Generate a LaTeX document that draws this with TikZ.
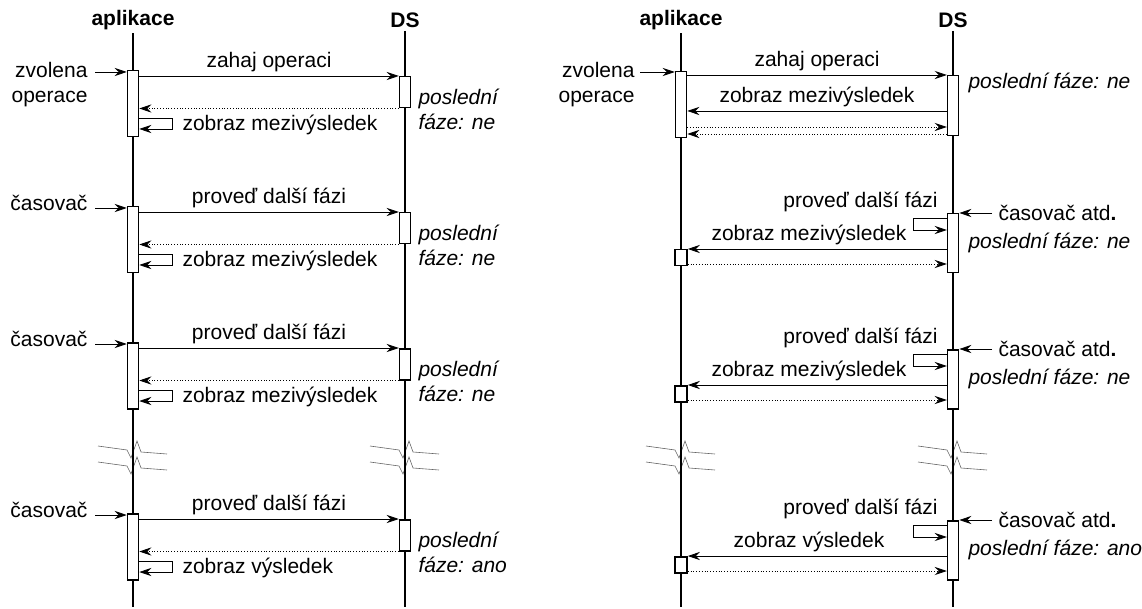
\documentclass[tikz,border=0pt]{standalone}
\usepackage{fontspec}
\setmainfont{Liberation Sans}
\usetikzlibrary{arrows.meta,calc}
\tikzset{
  lbl/.style={font=\fontsize{21}{25}\selectfont},
  itl/.style={font=\fontsize{21}{25}\selectfont\itshape},
  hdr/.style={font=\fontsize{21}{25}\selectfont\bfseries},
  life/.style={line width=1.6pt},
  act/.style={draw, fill=white, line width=1.5pt, rectangle, inner sep=0pt, minimum width=11pt},
  msg/.style={line width=0.8pt, -{Stealth[length=12pt,width=8pt,inset=4pt]}},
  ret/.style={line width=0.8pt, dash pattern=on 0.8pt off 2pt, -{Stealth[length=12pt,width=8pt,inset=4pt]}},
  brk/.style={line width=0.6pt, black!60},
}
\newcommand\LBlock[6]{%
  \node[act, minimum height=66pt, anchor=north] (LA#1) at (133,#2) {};
  \node[act, minimum height=31pt, anchor=north] (LD#1) at (405,#2+6) {};
  \coordinate (LI#1) at (95,#2+2);
  \draw[msg] (LI#1) -- (LA#1.west |- LI#1);
  \node[lbl, anchor=east, align=right] (LL#1) at (91,#2+#3) {#4};
  \draw[msg] (LA#1.east |- LD#1.north west) -- node[lbl, above] (LM#1) {#5} (LD#1.north west);
  \draw[ret] (LD#1.south west) -- (LA#1.east |- LD#1.south west);
  \coordinate (LS#1) at ([yshift=-48pt]LA#1.north east);
  \coordinate (LE#1) at ([yshift=-59pt]LA#1.north east);
  \draw[msg] (LS#1) -- ++(33,0) |- (LE#1);
  \node[itl, anchor=west, align=left] (LP#1) at (415,#2+39) {poslední\\fáze: #6};
}
\newcommand\LSelf[3]{%
  \node[lbl, anchor=west] (LT#1) at (179,#2+55) {#3};
}
\newcommand\RBlock[4]{%
  \node[act, minimum height=59pt, anchor=north] (RD#1) at (953,#2) {};
  \node[act, minimum height=16pt, minimum width=12pt, anchor=north] (RA#1) at (681,#2+36) {};
  \coordinate (RI#1) at (992,#2);
  \draw[msg] (RI#1) -- (RD#1.east |- RI#1);
  \node[lbl, anchor=west] (RL#1) at (995,#2) {časovač atd\textbf{.}};
  \coordinate (RS#1) at ([yshift=-5pt]RD#1.north west);
  \coordinate (RE#1) at ([yshift=-17pt]RD#1.north west);
  \draw[msg] (RS#1) -- ++(-33,0) |- (RE#1);
  \node[lbl, anchor=east] (RM#1) at (941,#2-11) {proveď další fázi};
  \draw[msg] (RD#1.west |- RA#1.north east) -- (RA#1.north east);
  \node[lbl] (RT#1) at (809,#2+22) {#3};
  \coordinate (RR#1) at ([yshift=2.5pt]RA#1.south east);
  \draw[ret] (RR#1) -- (RD#1.west |- RR#1);
  \node[itl, anchor=west] (RP#1) at (965,#2+30) {poslední fáze: #4};
}
\newcommand\Brk[2]{%
  \draw[brk] (#1-35,#2) -- (#1-6,#2+4) -- (#1-2,#2+12) -- (#1+4,#2-5) -- (#1+8,#2+6) -- (#1+34,#2+8);
}
\begin{document}
\begin{tikzpicture}[x=1pt,y=-1pt]
\useasboundingbox (0,0) rectangle (1142,609);
% headers
\node[hdr] (hLA) at (133,20) {aplikace};
\node[hdr] (hLD) at (405,20) {DS};
\node[hdr] (hRA) at (681,20) {aplikace};
\node[hdr] (hRD) at (953,20) {DS};
\coordinate (eLA) at (133,607);
\coordinate (eLD) at (405,607);
\coordinate (eRA) at (681,607);
\coordinate (eRD) at (953,607);
% break marks
\foreach \xx in {133,405,681,953}{\Brk{\xx}{446}\Brk{\xx}{462}}
% lifelines
\draw[life] (hLA.south) -- (eLA);
\draw[life] (hLD.south) -- (eLD);
\draw[life] (hRA.south) -- (eRA);
\draw[life] (hRD.south) -- (eRD);
% left blocks
\LBlock{1}{70}{14.5}{zvolena\\operace}{zahaj operaci}{ne}
\LSelf{1}{70}{zobraz mezivýsledek}
\LBlock{2}{206}{-3}{časovač}{proveď další fázi}{ne}
\LSelf{2}{206}{zobraz mezivýsledek}
\LBlock{3}{342}{-3}{časovač}{proveď další fázi}{ne}
\LSelf{3}{342}{zobraz mezivýsledek}
\LBlock{4}{513}{-3}{časovač}{proveď další fázi}{ano}
\LSelf{4}{513}{zobraz výsledek}
% right block 1
\node[act, minimum height=66pt, anchor=north] (RA0) at (681,71) {};
\node[act, minimum height=60pt, anchor=north] (RD0) at (953,75) {};
\coordinate (RI0) at (640,72);
\draw[msg] (RI0) -- (RA0.west |- RI0);
\node[lbl, anchor=east, align=right] (RL0) at (638,85) {zvolena\\operace};
\draw[msg] (RA0.east |- RD0.north west) -- node[lbl, above] (RM0) {zahaj operaci} (RD0.north west);
\coordinate (RZ0) at ([yshift=-36pt]RD0.north west);
\draw[msg] (RZ0) -- node[lbl, above] (RT0) {zobraz mezivýsledek} (RA0.east |- RZ0);
\coordinate (RX0) at ([yshift=-52pt]RD0.north west);
\draw[ret] (RA0.east |- RX0) -- (RX0);
\coordinate (RY0) at ([yshift=-59pt]RD0.north west);
\draw[ret] (RY0) -- (RA0.east |- RY0);
\node[itl, anchor=west] (RP0) at (965,83) {poslední fáze: ne};
% right blocks
\RBlock{2}{213}{zobraz mezivýsledek}{ne}
\RBlock{3}{349}{zobraz mezivýsledek}{ne}
\RBlock{4}{520}{zobraz výsledek}{ano}
\end{tikzpicture}
\end{document}
